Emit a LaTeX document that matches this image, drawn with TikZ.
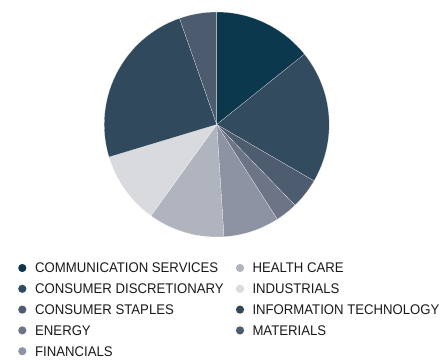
\documentclass[tikz,border=0pt]{standalone}
\usepackage{fontspec}
\setmainfont[FakeStretch=0.94]{Liberation Sans}
\definecolor{ccomm}{RGB}{12,56,78}
\definecolor{ccdisc}{RGB}{51,75,94}
\definecolor{ccstap}{RGB}{77,92,110}
\definecolor{cener}{RGB}{108,116,134}
\definecolor{cfin}{RGB}{141,147,162}
\definecolor{chealth}{RGB}{176,180,190}
\definecolor{cind}{RGB}{217,218,222}
\definecolor{cit}{RGB}{48,73,92}
\definecolor{cmat}{RGB}{76,91,110}
\begin{document}
\begin{tikzpicture}[x=1pt,y=1pt,
  slice/.style={draw=white,line width=0.1pt,line join=round},
  dot/.style={circle,inner sep=0pt,minimum size=8.2pt},
  lab/.style={anchor=west,inner sep=0pt,font=\fontsize{14}{14}\selectfont,text=black!90}]
\useasboundingbox (0,0) rectangle (443,360);
\coordinate (C) at (216.7,235.5);
\def\R{112.5}
\foreach \a/\b/\c in {90/38.7/ccomm, 38.7/-30.1/ccdisc, -30.1/-45.9/ccstap, -45.9/-57.4/cener, -57.4/-86.3/cfin, -86.3/-125.8/chealth, -125.8/-163.2/cind, -163.2/-250.7/cit, -250.7/-270/cmat}{
  \fill[slice,fill=\c] (C) -- ++(\a:\R) arc[start angle=\a,end angle=\b,radius=\R] -- cycle;
}
% legend column 1
\node[dot,fill=ccomm] (d1) at (22.3,92) {};
\node[lab] (t1) at (35,92) {COMMUNICATION SERVICES};
\node[dot,fill=ccdisc] (d2) at (22.3,71.2) {};
\node[lab] (t2) at (35,71.2) {CONSUMER DISCRETIONARY};
\node[dot,fill=ccstap] (d3) at (22.3,50.4) {};
\node[lab] (t3) at (35,50.4) {CONSUMER STAPLES};
\node[dot,fill=cener] (d4) at (22.3,29.6) {};
\node[lab] (t4) at (35,29.6) {ENERGY};
\node[dot,fill=cfin] (d5) at (22.3,8.8) {};
\node[lab] (t5) at (35,8.8) {FINANCIALS};
% legend column 2
\node[dot,fill=chealth] (d6) at (240,92) {};
\node[lab] (t6) at (252.3,92) {HEALTH CARE};
\node[dot,fill=cind] (d7) at (240,71.2) {};
\node[lab] (t7) at (252.3,71.2) {INDUSTRIALS};
\node[dot,fill=cit] (d8) at (240,50.4) {};
\node[lab] (t8) at (252.3,50.4) {INFORMATION TECHNOLOGY};
\node[dot,fill=cmat] (d9) at (240,29.6) {};
\node[lab] (t9) at (252.3,29.6) {MATERIALS};
\end{tikzpicture}
\end{document}
